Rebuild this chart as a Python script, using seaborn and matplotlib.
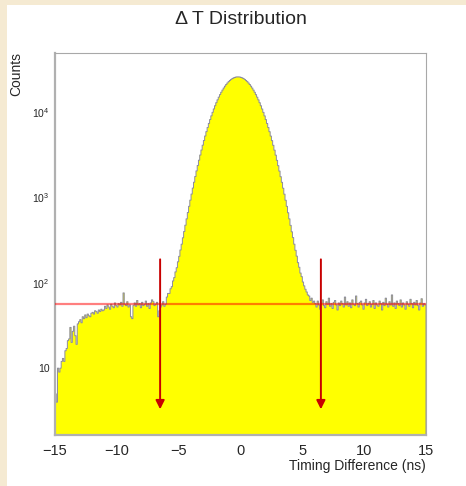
import numpy as np
import pandas as pd
import matplotlib
matplotlib.use("Agg")
from matplotlib import pyplot as plt
from matplotlib.patches import Rectangle
from matplotlib.ticker import FixedLocator, FixedFormatter, MultipleLocator, LogLocator, NullFormatter
import seaborn as sns

# counts per 0.1 ns bin
# -15 .. -6 ns
left_counts = [
    5, 4, 10, 9, 10, 12, 13, 12, 16, 17,
    21, 22, 30, 20, 27, 31, 24, 19, 33, 35,
    37, 34, 40, 38, 42, 39, 43, 41, 40, 44,
    45, 43, 47, 46, 44, 48, 46, 49, 47, 48,
    53, 50, 55, 52, 49, 56, 53, 51, 58, 54,
    52, 57, 55, 59, 53, 76, 56, 54, 60, 52,
    55, 40, 38, 54, 58, 53, 62, 55, 57, 51,
    59, 54, 56, 61, 53, 57, 50, 58, 63, 60,
    54, 56, 59, 40, 47, 52, 55, 60, 53, 56,
]
# -6 .. 6 ns
peak_counts = [
    68, 75, 75, 85, 90, 105, 115, 134, 150, 176,
    204, 242, 283, 336, 398, 472, 560, 664, 786, 928,
    1093, 1284, 1504, 1754, 2040, 2363, 2724, 3130, 3582, 4082,
    4630, 5229, 5881, 6585, 7341, 8148, 9003, 9903, 10845, 11823,
    12831, 13862, 14908, 15961, 17010, 18047, 19060, 20038, 20971, 21849,
    22659, 23393, 24041, 24595, 25047, 25392, 25624, 25741,
    25702, 25611, 25380, 25030, 24580, 24028, 23380, 22645, 21835, 20960,
    20025, 19050, 18030, 17000, 15950, 14900, 13850, 12820, 11810, 10830,
    9890, 8990, 8135, 7330, 6575, 5870, 5215, 4615, 4070, 3570,
    3120, 2712, 2350, 2030, 1745, 1500, 1280, 1090, 925, 785,
    660, 560, 470, 395, 338, 283, 240, 205, 172, 152,
    130, 118, 102, 92, 84, 78, 72, 70, 62, 66,
    59, 61,
]
# 6 .. 15 ns
right_counts = [
    57, 52, 61, 55, 49, 58, 63, 54, 51, 60,
    56, 66, 53, 57, 50, 59, 62, 55, 48, 58,
    54, 61, 57, 52, 68, 55, 60, 53, 58, 51,
    63, 56, 54, 70, 57, 52, 59, 61, 55, 49,
    58, 64, 54, 57, 60, 52, 56, 62, 50, 58,
    55, 53, 61, 57, 48, 59, 54, 66, 56, 52,
    60, 55, 72, 53, 58, 50, 61, 57, 54, 63,
    52, 58, 55, 49, 60, 56, 53, 64, 57, 51,
    59, 55, 62, 54, 48, 58, 65, 53, 57, 55,
]

fit_level = 56.4          # flat background fit
cut_x = [-6.5, 6.5]       # timing cut
arrow_top = 188
arrow_tip = 3.3

y_ticks = [10, 100, 1000, 10000]
y_tick_labels = ["10", "$10^{2}$", "$10^{3}$", "$10^{4}$"]

sns.set_style("white")
plt.rcParams["font.family"] = ["Liberation Sans", "DejaVu Sans"]
plt.rcParams["mathtext.fontset"] = "custom"
plt.rcParams["mathtext.rm"] = "Liberation Sans"
plt.rcParams["mathtext.it"] = "Liberation Sans"

counts = np.array(left_counts + peak_counts + right_counts, dtype=float)
nbins = len(counts)
centers = -15 + (np.arange(nbins) + 0.5) * 30 / nbins
df = pd.DataFrame({"dt": centers, "counts": counts})

W, H = 466, 486
fig = plt.figure(figsize=(W / 100, H / 100), dpi=100)
fig.patch.set_facecolor("#f5ead2")
fig.add_artist(Rectangle((7 / W, 0), 1, 1 - 5 / H, transform=fig.transFigure,
                         facecolor="white", edgecolor="none", zorder=-10))

ax = fig.add_axes([55 / W, 1 - 435 / H, 371 / W, 382 / H])
sns.histplot(data=df, x="dt", weights="counts", bins=nbins, binrange=(-15, 15),
             element="step", fill=True, facecolor="#ffff00", edgecolor="#8c8c9c",
             linewidth=0.7, alpha=1, ax=ax)
ax.set_yscale("log")
ax.set_xlim(-15, 15)
ax.set_ylim(1.65, 49000)

# background fit
ax.plot([-15, 15], [fit_level, fit_level], color="red", alpha=0.5, lw=1.6, zorder=5)

# cut arrows
for x in cut_x:
    ax.annotate("", xy=(x, arrow_tip), xytext=(x, arrow_top),
                arrowprops=dict(arrowstyle="-|>", color="#c80000", lw=1.4,
                                mutation_scale=13, shrinkA=0, shrinkB=0),
                zorder=6)

ax.xaxis.set_major_locator(MultipleLocator(5))
ax.xaxis.set_minor_locator(MultipleLocator(1))
ax.yaxis.set_major_locator(FixedLocator(y_ticks))
ax.yaxis.set_major_formatter(FixedFormatter(y_tick_labels))
ax.yaxis.set_minor_locator(LogLocator(subs=np.arange(2, 10)))
ax.yaxis.set_minor_formatter(NullFormatter())

ax.tick_params(axis="both", which="both", direction="in", top=False, right=False,
               color="#555555", width=0.7)
ax.tick_params(axis="x", which="major", length=7.5, labelsize=10.5, pad=6.5)
ax.tick_params(axis="x", which="minor", length=3.8)
ax.tick_params(axis="y", which="major", length=8.5, labelsize=7.5, pad=4)
ax.tick_params(axis="y", which="minor", length=4.2)

for side in ["left", "bottom"]:
    ax.spines[side].set_color("#b0b0b0")
    ax.spines[side].set_linewidth(1.6)
for side in ["top", "right"]:
    ax.spines[side].set_color("#a8a8a8")
    ax.spines[side].set_linewidth(0.8)

ax.set_xlabel("")
ax.set_ylabel("")
fig.text(241 / W, 1 - 20 / H, "Δ T Distribution", ha="center", va="center", fontsize=14)
fig.text(426 / W, 1 - 470 / H, "Timing Difference (ns)", ha="right", va="baseline", fontsize=10)
fig.text(16 / W, 1 - 52 / H, "Counts", rotation=90, ha="center", va="top", fontsize=10)

fig.savefig("out.png", dpi=100, facecolor=fig.get_facecolor())
